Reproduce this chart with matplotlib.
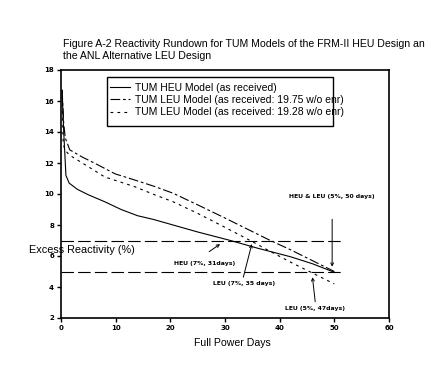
import matplotlib
matplotlib.use("Agg")
import matplotlib.pyplot as plt
from matplotlib.patches import Rectangle

plt.rcParams['font.family'] = ['Liberation Sans', 'DejaVu Sans']
plt.rcParams['lines.scale_dashes'] = False

# full power days vs excess reactivity (%)
heu_days = [0.2, 0.5, 0.9, 1.5, 3, 5, 8, 11, 14, 17, 20, 25, 31, 36, 42, 46, 50]
heu_rho = [16.7, 14.0, 11.2, 10.7, 10.3, 9.95, 9.5, 9.0, 8.6, 8.35, 8.05, 7.55, 7.0, 6.5, 5.95, 5.5, 4.95]

leu1975_days = [0.2, 0.5, 0.8, 1.6, 3.8, 6.8, 9.9, 13.5, 17, 20.5, 25, 30, 34, 38, 42, 46, 50]
leu1975_rho = [16.7, 14.5, 13.6, 12.85, 12.4, 11.87, 11.3, 10.9, 10.5, 10.05, 9.3, 8.45, 7.75, 7.05, 6.4, 5.7, 5.0]

leu1928_days = [0.2, 0.4, 0.8, 1.6, 5, 8, 13.5, 17.2, 20.5, 25, 30, 34.6, 38, 42, 46, 50]
leu1928_rho = [16.7, 13.2, 12.8, 12.5, 11.76, 11.1, 10.47, 9.94, 9.5, 8.75, 7.85, 7.0, 6.35, 5.6, 4.9, 4.2]

limit_levels = [7, 5]
limit_end = 51.6

labels = ["TUM HEU Model (as received)",
          "TUM LEU Model (as received: 19.75 w/o enr)",
          "TUM LEU Model (as received: 19.28 w/o enr)"]

# text, text position, arrow tail, arrow tip
notes = [
    ("HEU & LEU (5%, 50 days)", (49.5, 9.83), (49.6, 8.37), (49.6, 5.31)),
    ("HEU (7%, 31days)", (26.2, 5.53), (27.1, 6.28), (29.1, 6.77)),
    ("LEU (7%, 35 days)", (33.5, 4.24), (33.35, 4.63), (34.9, 6.77)),
    ("LEU (5%, 47days)", (46.5, 2.63), (46.5, 3.05), (46.0, 4.63)),
]

W, H = 430, 384
fig = plt.figure(figsize=(W / 100, H / 100), dpi=100)
ax = fig.add_axes([61 / W, 1 - 318 / H, 328 / W, 248 / H])

lw = 0.8
l1, = ax.plot(heu_days, heu_rho, color='black', lw=lw)
l2, = ax.plot(leu1975_days, leu1975_rho, color='black', lw=lw, dashes=(7, 2, 2, 2))
l3, = ax.plot(leu1928_days, leu1928_rho, color='black', lw=lw, dashes=(2, 3))

for lev in limit_levels:
    ax.plot([0, limit_end], [lev, lev], color='black', lw=lw, dashes=(9, 3))

for txt, tpos, tail, tip in notes:
    ax.text(tpos[0], tpos[1], txt, fontsize=4.4, family='DejaVu Sans',
            weight='bold', ha='center', va='center')
    ax.annotate("", xy=tip, xytext=tail,
                arrowprops=dict(arrowstyle='->', lw=0.7, color='black',
                                mutation_scale=5, shrinkA=0, shrinkB=0))

ax.set_xlim(0, 60)
ax.set_ylim(2, 18)
ax.set_xticks(range(0, 61, 10))
ax.set_yticks(range(2, 19, 2))
ax.tick_params(direction='out', length=3, width=1, labelsize=5, pad=2)
for lab in ax.get_xticklabels() + ax.get_yticklabels():
    lab.set_family('DejaVu Sans')
    lab.set_weight('bold')
for sp in ax.spines.values():
    sp.set_linewidth(1.2)

fig.text(63 / W, 1 - 39 / H,
         "Figure A-2 Reactivity Rundown for TUM Models of the FRM-II HEU Design an\n"
         "the ANL Alternative LEU Design",
         fontsize=7.6, ha='left', va='top', linespacing=1.3)
fig.text(232 / W, 1 - 343 / H, "Full Power Days", fontsize=7.6, ha='center', va='center')
fig.text(82 / W, 1 - 250 / H, "Excess Reactivity (%)", fontsize=7.8, ha='center', va='center')

fig.patches.append(Rectangle((107 / W, 1 - 126 / H), 226 / W, 49 / H,
                             transform=fig.transFigure, fill=False,
                             edgecolor='black', lw=1.0))
fig.legend([l1, l2, l3], labels, loc='upper left',
           bbox_to_anchor=(110 / W, 1 - 83 / H), frameon=False,
           fontsize=7.5, handlelength=1.9, handletextpad=0.5,
           labelspacing=0.2, borderpad=0, borderaxespad=0)

fig.savefig("out.png", dpi=100)
